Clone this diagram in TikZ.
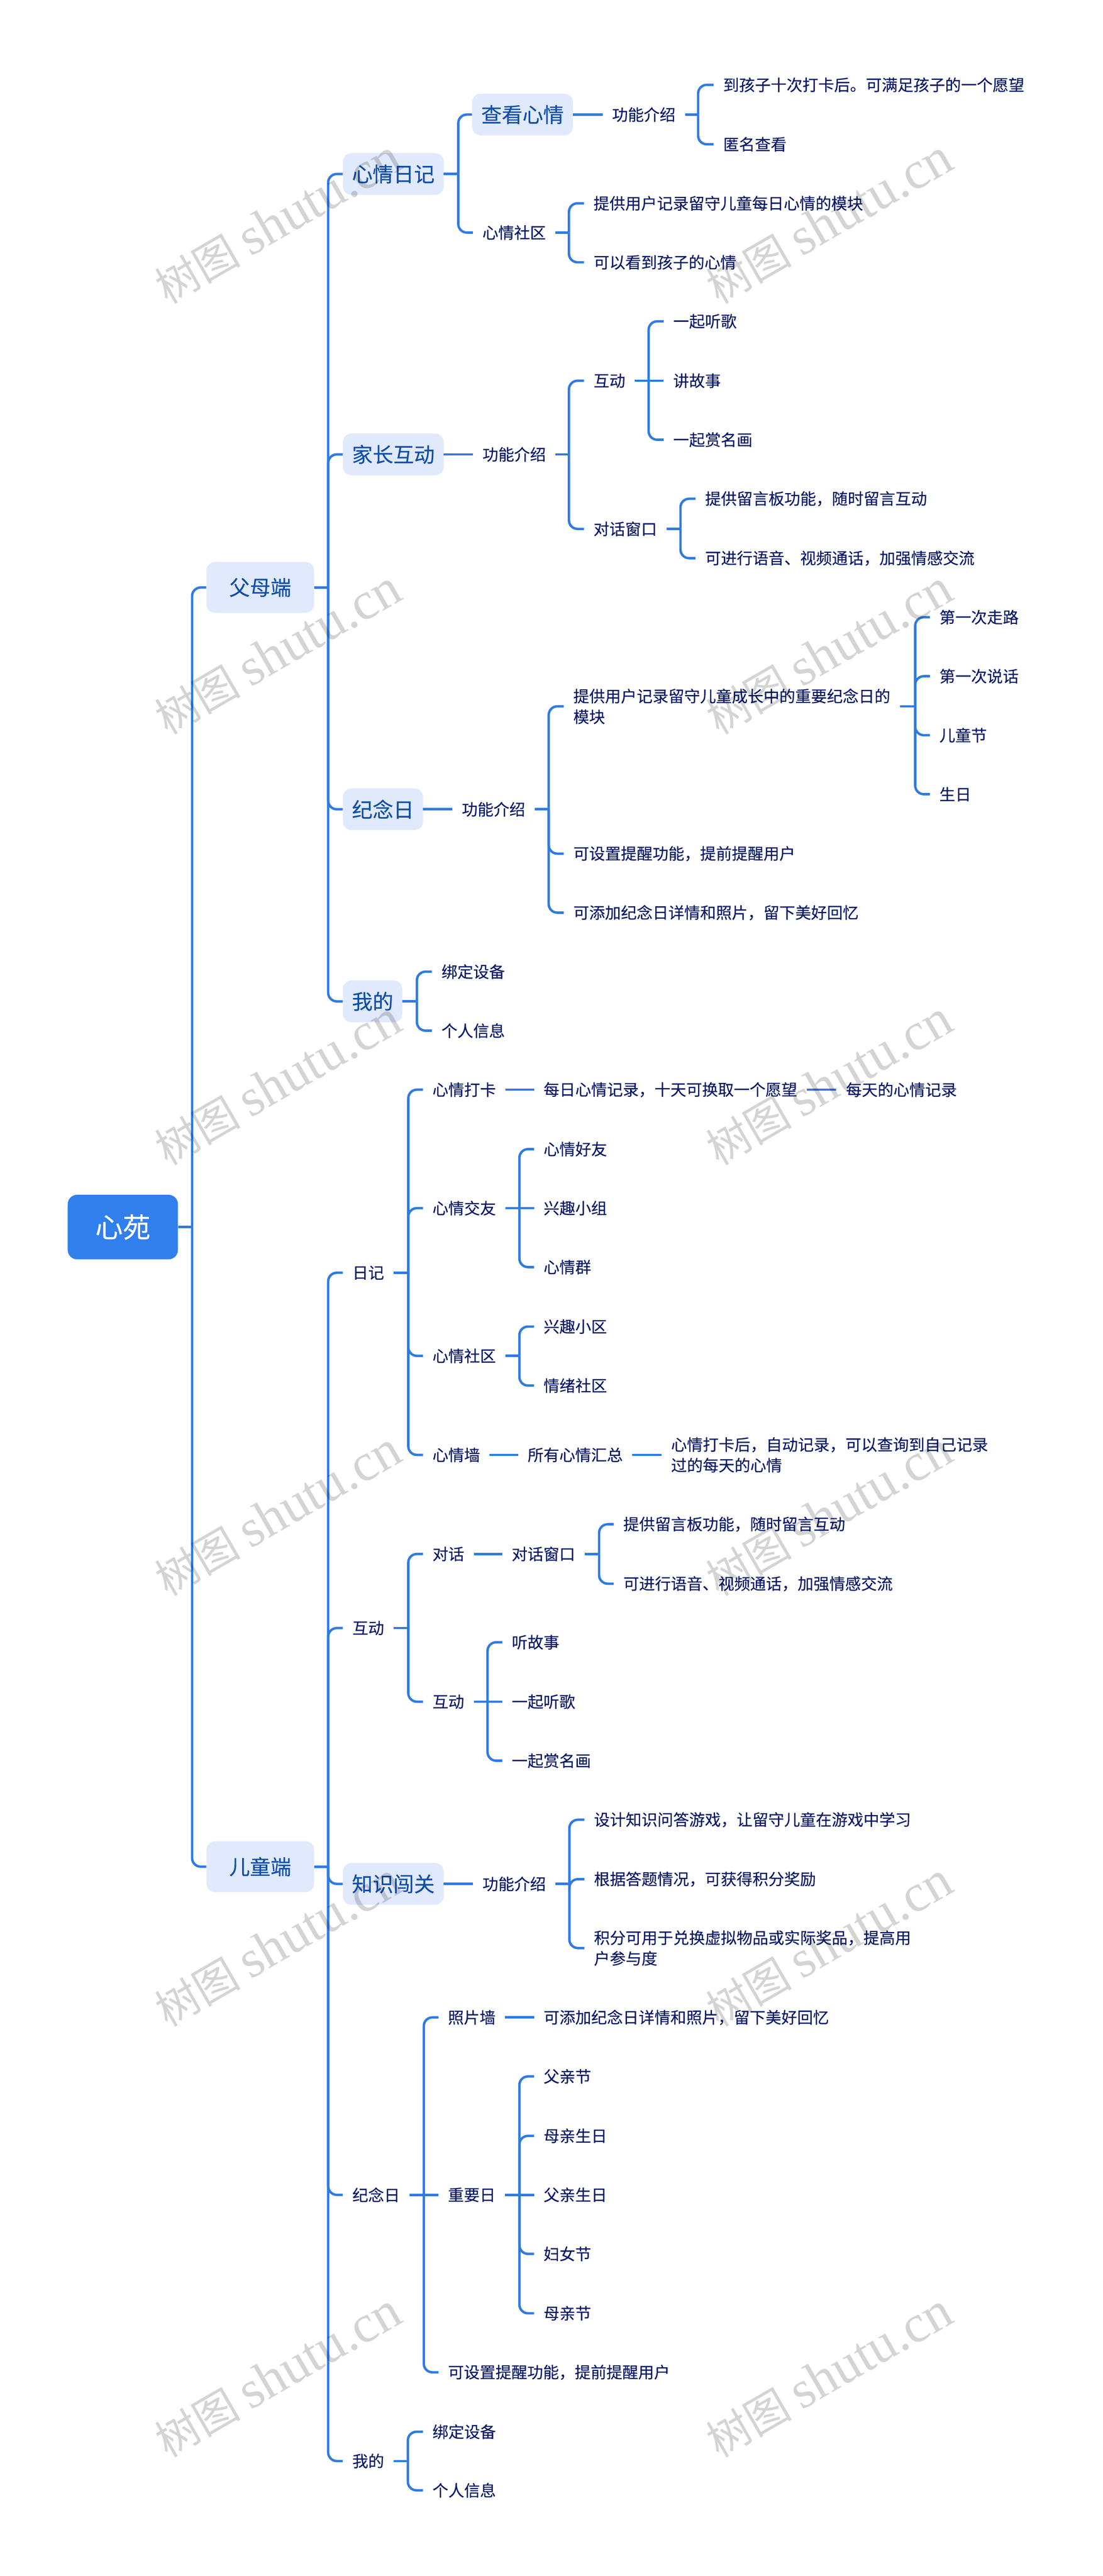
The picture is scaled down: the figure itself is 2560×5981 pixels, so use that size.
\documentclass[tikz,border=0pt]{standalone}
\usepackage{fontspec}
\setmainfont[RawFeature={embolden=0.25}]{Noto Sans CJK SC}
\newfontfamily\wmcjk{Noto Sans CJK SC}
\newfontfamily\wmlatin{Liberation Serif}
\definecolor{lineblue}{HTML}{2F7BE2}
\definecolor{rootblue}{HTML}{317FEC}
\definecolor{boxfill}{HTML}{E1E9FC}
\definecolor{boxtext}{HTML}{0F4FA8}
\definecolor{leaftext}{HTML}{0A1A66}
\tikzset{
  conn/.style={draw=lineblue,line width=5.6pt,line join=round},
  rootbox/.style={anchor=west,fill=rootblue,rounded corners=22pt,inner sep=0pt,minimum width=256pt,minimum height=150pt,text=white,font=\fontsize{64pt}{72pt}\selectfont},
  boxa/.style={anchor=west,fill=boxfill,rounded corners=20pt,inner xsep=53pt,inner ysep=0pt,minimum height=118pt,text=boxtext,font=\fontsize{48pt}{60pt}\selectfont},
  boxb/.style={anchor=west,fill=boxfill,rounded corners=20pt,inner xsep=21pt,inner ysep=0pt,minimum height=97pt,text=boxtext,font=\fontsize{48pt}{60pt}\selectfont},
  plain/.style={anchor=west,inner xsep=22pt,inner ysep=0pt,text=leaftext,align=left,font=\fontsize{36.8pt}{48pt}\selectfont},
  wmark/.style={rotate=30,text=black,text opacity=0.17,inner sep=0pt,font=\fontsize{100pt}{130pt}\wmcjk}
}
\newcommand{\wmtext}{树图 {\fontsize{123pt}{140pt}\wmlatin shutu.cn}}
\newcommand{\brn}[3]{%
  \coordinate (T) at (#2,0);
  \draw[conn] (#1.east) -- (T |- #1.east);
  \foreach \c in {#3} {
    \draw[conn,rounded corners=20pt] (T |- #1.east) -- (T |- \c.west) -- (\c.west);
  }
}
\begin{document}
\begin{tikzpicture}[x=1pt,y=-1pt]
\fill[white] (0,0) rectangle (2560,5981);
\useasboundingbox (0,0) rectangle (2560,5981);
% nodes
\node[rootbox] (root) at (157,2849) {心苑};
\node[boxa] (p) at (479,1364) {父母端};
\node[boxa] (c) at (479,4334) {儿童端};
% parents
\node[boxb] (p1) at (796,404) {心情日记};
\node[boxb] (p2) at (796,1055) {家长互动};
\node[boxb] (p3) at (796,1879) {纪念日};
\node[boxb] (p4) at (796,2325) {我的};
\node[boxb] (a1) at (1096,266) {查看心情};
\node[plain] (a2) at (1098,540) {心情社区};
\node[plain] (a1f) at (1399,266) {功能介绍};
\node[plain] (a1x) at (1657,197) {到孩子十次打卡后。可满足孩子的一个愿望};
\node[plain] (a1y) at (1657,335) {匿名查看};
\node[plain] (a2x) at (1356,472) {提供用户记录留守儿童每日心情的模块};
\node[plain] (a2y) at (1356,609) {可以看到孩子的心情};
\node[plain] (p2f) at (1098,1055) {功能介绍};
\node[plain] (hd) at (1356,884) {互动};
\node[plain] (dh) at (1356,1228) {对话窗口};
\node[plain] (hd1) at (1541,746) {一起听歌};
\node[plain] (hd2) at (1541,884) {讲故事};
\node[plain] (hd3) at (1541,1021) {一起赏名画};
\node[plain] (dh1) at (1615,1158) {提供留言板功能，随时留言互动};
\node[plain] (dh2) at (1615,1296) {可进行语音、视频通话，加强情感交流};
\node[plain] (p3f) at (1050,1879) {功能介绍};
\node[plain] (j1) at (1309,1640) {提供用户记录留守儿童成长中的重要纪念日的\\模块};
\node[plain] (j2) at (1309,1982) {可设置提醒功能，提前提醒用户};
\node[plain] (j3) at (1309,2119) {可添加纪念日详情和照片，留下美好回忆};
\node[plain] (m1) at (2159,1433) {第一次走路};
\node[plain] (m2) at (2159,1570) {第一次说话};
\node[plain] (m3) at (2159,1707) {儿童节};
\node[plain] (m4) at (2159,1844) {生日};
\node[plain] (w1) at (1003,2256) {绑定设备};
\node[plain] (w2) at (1003,2393) {个人信息};
% children
\node[plain] (c1) at (796,2955) {日记};
\node[plain] (c2) at (796,3780) {互动};
\node[boxb] (c3) at (796,4374) {知识闯关};
\node[plain] (c4) at (796,5096) {纪念日};
\node[plain] (c5) at (796,5714) {我的};
\node[plain] (d1) at (982,2530) {心情打卡};
\node[plain] (d2) at (982,2805) {心情交友};
\node[plain] (d3) at (982,3148) {心情社区};
\node[plain] (d4) at (982,3378) {心情墙};
\node[plain] (d1a) at (1240,2530) {每日心情记录，十天可换取一个愿望};
\node[plain] (d1b) at (1942,2530) {每天的心情记录};
\node[plain] (d2a) at (1240,2668) {心情好友};
\node[plain] (d2b) at (1240,2805) {兴趣小组};
\node[plain] (d2c) at (1240,2942) {心情群};
\node[plain] (d3a) at (1240,3080) {兴趣小区};
\node[plain] (d3b) at (1240,3217) {情绪社区};
\node[plain] (d4a) at (1203,3378) {所有心情汇总};
\node[plain] (d4b) at (1536,3378) {心情打卡后，自动记录，可以查询到自己记录\\过的每天的心情};
\node[plain] (e1) at (982,3608) {对话};
\node[plain] (e2) at (982,3951) {互动};
\node[plain] (e1a) at (1166,3608) {对话窗口};
\node[plain] (e1b) at (1425,3539) {提供留言板功能，随时留言互动};
\node[plain] (e1c) at (1425,3677) {可进行语音、视频通话，加强情感交流};
\node[plain] (e2a) at (1166,3813) {听故事};
\node[plain] (e2b) at (1166,3951) {一起听歌};
\node[plain] (e2c) at (1166,4088) {一起赏名画};
\node[plain] (c3f) at (1098,4374) {功能介绍};
\node[plain] (f1) at (1357,4225) {设计知识问答游戏，让留守儿童在游戏中学习};
\node[plain] (f2) at (1357,4363) {根据答题情况，可获得积分奖励};
\node[plain] (f3) at (1357,4523) {积分可用于兑换虚拟物品或实际奖品，提高用\\户参与度};
\node[plain] (g1) at (1018,4684) {照片墙};
\node[plain] (g2) at (1018,5096) {重要日};
\node[plain] (g3) at (1018,5508) {可设置提醒功能，提前提醒用户};
\node[plain] (g1a) at (1240,4684) {可添加纪念日详情和照片，留下美好回忆};
\node[plain] (g2a) at (1240,4821) {父亲节};
\node[plain] (g2b) at (1240,4959) {母亲生日};
\node[plain] (g2c) at (1240,5096) {父亲生日};
\node[plain] (g2d) at (1240,5233) {妇女节};
\node[plain] (g2e) at (1240,5371) {母亲节};
\node[plain] (h1) at (982,5646) {绑定设备};
\node[plain] (h2) at (982,5782) {个人信息};
% connectors
\brn{root}{446}{p,c}
\brn{p}{762}{p1,p2,p3,p4}
\brn{p1}{1064}{a1,a2}
\draw[conn] (a1.east) -- (a1f.west);
\brn{a1f}{1621}{a1x,a1y}
\brn{a2}{1321}{a2x,a2y}
\draw[conn] (p2.east) -- (p2f.west);
\brn{p2f}{1321}{hd,dh}
\brn{hd}{1506}{hd1,hd3}
\draw[conn] (hd.east) -- (hd2.west);
\brn{dh}{1580}{dh1,dh2}
\draw[conn] (p3.east) -- (p3f.west);
\brn{p3f}{1274}{j1,j2,j3}
\brn{j1}{2125}{m1,m2,m3,m4}
\brn{p4}{968}{w1,w2}
\brn{c}{762}{c1,c2,c3,c4,c5}
\brn{c1}{948}{d1,d2,d3,d4}
\draw[conn] (d1.east) -- (d1a.west);
\draw[conn] (d1a.east) -- (d1b.west);
\brn{d2}{1206}{d2a,d2c}
\draw[conn] (d2.east) -- (d2b.west);
\brn{d3}{1206}{d3a,d3b}
\draw[conn] (d4.east) -- (d4a.west);
\draw[conn] (d4a.east) -- (d4b.west);
\brn{c2}{948}{e1,e2}
\draw[conn] (e1.east) -- (e1a.west);
\brn{e1a}{1391}{e1b,e1c}
\brn{e2}{1132}{e2a,e2c}
\draw[conn] (e2.east) -- (e2b.west);
\draw[conn] (c3.east) -- (c3f.west);
\brn{c3f}{1322}{f1,f2,f3}
\brn{c4}{984}{g1,g3}
\draw[conn] (c4.east) -- (g2.west);
\draw[conn] (g1.east) -- (g1a.west);
\brn{g2}{1206}{g2a,g2b,g2d,g2e}
\draw[conn] (g2.east) -- (g2c.west);
\brn{c5}{947}{h1,h2}
% watermarks
\foreach \wy [count=\wi] in {515,1515,2515,3515,4515,5515} {
  \node[wmark] (wl\wi) at (645,\wy) {\wmtext};
  \node[wmark] (wr\wi) at (1925,\wy) {\wmtext};
}
\end{tikzpicture}
\end{document}
